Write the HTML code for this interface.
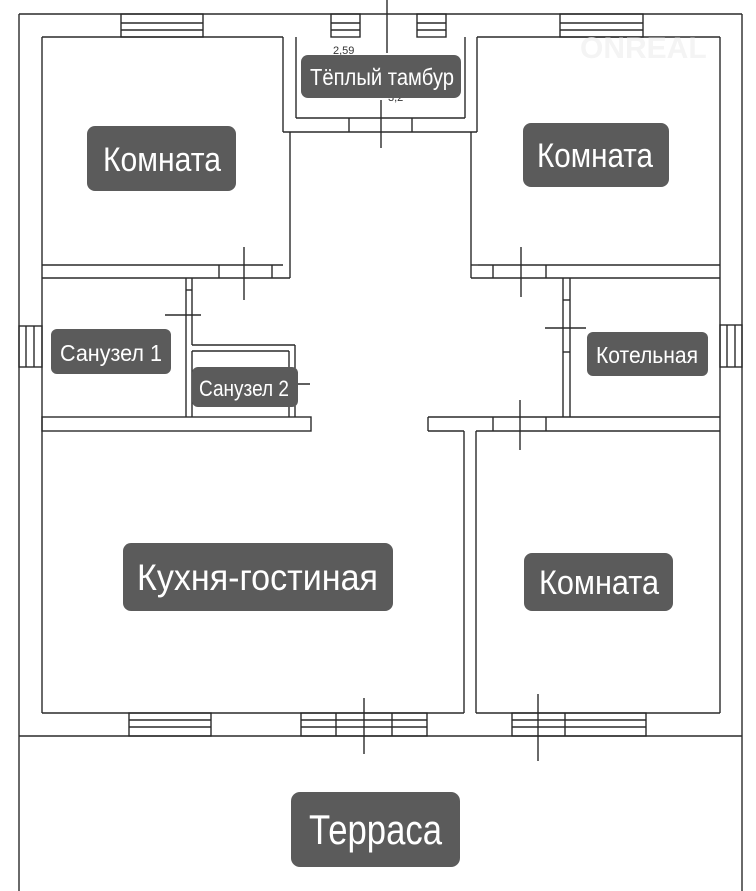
<!DOCTYPE html>
<html><head><meta charset="utf-8"><style>html,body{margin:0;padding:0;background:#fff}svg{display:block}</style></head><body>
<svg width="756" height="891" viewBox="0 0 756 891" xmlns="http://www.w3.org/2000/svg">
<g fill="none" stroke="#2a2a2a" stroke-width="1.4">
<line x1="19" y1="14" x2="742" y2="14"/>
<line x1="19" y1="14" x2="19" y2="891"/>
<line x1="742" y1="14" x2="742" y2="891"/>
<line x1="19" y1="736" x2="742" y2="736"/>
<line x1="42" y1="37" x2="283" y2="37"/>
<line x1="477" y1="37" x2="720" y2="37"/>
<line x1="42" y1="37" x2="42" y2="713"/>
<line x1="720" y1="37" x2="720" y2="713"/>
<line x1="42" y1="713" x2="464" y2="713"/>
<line x1="476" y1="713" x2="720" y2="713"/>
<rect x="121" y="14" width="82" height="23"/><line x1="121" y1="23" x2="203" y2="23"/><line x1="121" y1="30" x2="203" y2="30"/>
<rect x="331" y="14" width="29" height="23"/><line x1="331" y1="23" x2="360" y2="23"/><line x1="331" y1="30" x2="360" y2="30"/>
<rect x="417" y="14" width="29" height="23"/><line x1="417" y1="23" x2="446" y2="23"/><line x1="417" y1="30" x2="446" y2="30"/>
<rect x="560" y="14" width="83" height="23"/><line x1="560" y1="23" x2="643" y2="23"/><line x1="560" y1="30" x2="643" y2="30"/>
<line x1="387" y1="0" x2="387" y2="53"/>
<line x1="283" y1="37" x2="283" y2="132"/><line x1="477" y1="37" x2="477" y2="132"/>
<line x1="296" y1="37" x2="296" y2="118"/><line x1="465" y1="37" x2="465" y2="118"/>
<line x1="296" y1="118" x2="465" y2="118"/>
<line x1="283" y1="132" x2="477" y2="132"/>
<line x1="349" y1="118" x2="349" y2="132"/><line x1="412" y1="118" x2="412" y2="132"/>
<line x1="381" y1="100" x2="381" y2="148"/>
<line x1="290" y1="132" x2="290" y2="278"/>
<line x1="42" y1="265" x2="283" y2="265"/><line x1="42" y1="278" x2="290" y2="278"/>
<line x1="219" y1="265" x2="219" y2="278"/><line x1="272" y1="265" x2="272" y2="278"/>
<line x1="244" y1="247" x2="244" y2="300"/>
<line x1="471" y1="132" x2="471" y2="278"/>
<line x1="478" y1="265" x2="720" y2="265"/><line x1="471" y1="278" x2="720" y2="278"/>
<line x1="471" y1="265" x2="478" y2="265"/>
<line x1="493" y1="265" x2="493" y2="278"/><line x1="546" y1="265" x2="546" y2="278"/>
<line x1="521" y1="247" x2="521" y2="297"/>
<line x1="186" y1="278" x2="186" y2="417"/><line x1="192" y1="278" x2="192" y2="345"/>
<line x1="186" y1="290" x2="192" y2="290"/>
<line x1="165" y1="315" x2="201" y2="315"/>
<rect x="19" y="326" width="23" height="41"/><line x1="26" y1="326" x2="26" y2="367"/><line x1="34" y1="326" x2="34" y2="367"/>
<rect x="720" y="325" width="22" height="42"/><line x1="727" y1="325" x2="727" y2="367"/><line x1="735" y1="325" x2="735" y2="367"/>
<line x1="192" y1="345" x2="295" y2="345"/><line x1="192" y1="351" x2="289" y2="351"/>
<line x1="192" y1="351" x2="192" y2="417"/>
<line x1="289" y1="351" x2="289" y2="417"/><line x1="295" y1="345" x2="295" y2="417"/>
<line x1="289" y1="384" x2="310" y2="384"/>
<rect x="42" y="417" width="269" height="14"/>
<line x1="563" y1="278" x2="563" y2="417"/><line x1="570" y1="278" x2="570" y2="417"/>
<line x1="563" y1="300" x2="570" y2="300"/><line x1="563" y1="352" x2="570" y2="352"/>
<line x1="545" y1="328" x2="586" y2="328"/>
<line x1="428" y1="417" x2="720" y2="417"/><line x1="428" y1="417" x2="428" y2="431"/>
<line x1="428" y1="431" x2="464" y2="431"/><line x1="476" y1="431" x2="720" y2="431"/>
<line x1="493" y1="417" x2="493" y2="431"/><line x1="546" y1="417" x2="546" y2="431"/>
<line x1="520" y1="400" x2="520" y2="450"/>
<line x1="464" y1="431" x2="464" y2="713"/><line x1="476" y1="431" x2="476" y2="713"/>
<rect x="129" y="713" width="82" height="23"/><line x1="129" y1="720" x2="211" y2="720"/><line x1="129" y1="727" x2="211" y2="727"/>
<rect x="301" y="713" width="126" height="23"/><line x1="301" y1="720" x2="427" y2="720"/><line x1="301" y1="727" x2="427" y2="727"/>
<line x1="336" y1="713" x2="336" y2="736"/><line x1="392" y1="713" x2="392" y2="736"/>
<rect x="512" y="713" width="134" height="23"/><line x1="512" y1="720" x2="646" y2="720"/><line x1="512" y1="727" x2="646" y2="727"/>
<line x1="565" y1="713" x2="565" y2="736"/>
<line x1="364" y1="698" x2="364" y2="754"/><line x1="538" y1="694" x2="538" y2="761"/>
</g>
<g font-family="Liberation Sans, sans-serif" font-size="11" fill="#333">
<text x="333" y="54">2,59</text>
<text x="388" y="101">3,2</text>
</g>
<g fill="#5b5b5b">
<rect x="87" y="126" width="149" height="65" rx="8"/>
<rect x="523" y="123" width="146" height="64" rx="8"/>
<rect x="301" y="55" width="160" height="43" rx="7"/>
<rect x="51" y="329" width="120" height="45" rx="6"/>
<rect x="192" y="367" width="106" height="40" rx="6"/>
<rect x="587" y="332" width="121" height="44" rx="6"/>
<rect x="123" y="543" width="270" height="68" rx="8"/>
<rect x="524" y="553" width="149" height="58" rx="8"/>
<rect x="291" y="792" width="169" height="75" rx="9"/>
</g>
<g font-family="Liberation Sans, sans-serif" fill="#fff">
<text x="103" y="171" font-size="34" textLength="118" lengthAdjust="spacingAndGlyphs">Комната</text>
<text x="537" y="167" font-size="34" textLength="116" lengthAdjust="spacingAndGlyphs">Комната</text>
<text x="310" y="85" font-size="23" textLength="144" lengthAdjust="spacingAndGlyphs">Тёплый тамбур</text>
<text x="60" y="361" font-size="23" textLength="102" lengthAdjust="spacingAndGlyphs">Санузел 1</text>
<text x="199" y="396" font-size="22" textLength="90" lengthAdjust="spacingAndGlyphs">Санузел 2</text>
<text x="596" y="363" font-size="23" textLength="102" lengthAdjust="spacingAndGlyphs">Котельная</text>
<text x="137" y="590" font-size="37" textLength="241" lengthAdjust="spacingAndGlyphs">Кухня-гостиная</text>
<text x="539" y="594" font-size="34" textLength="120" lengthAdjust="spacingAndGlyphs">Комната</text>
<text x="309" y="844" font-size="42" textLength="133" lengthAdjust="spacingAndGlyphs">Терраса</text>
</g>
<text x="580" y="58" font-family="Liberation Sans, sans-serif" font-weight="bold" font-size="30" fill="#f4f4f4">ONREAL</text>
</svg>
</body></html>
